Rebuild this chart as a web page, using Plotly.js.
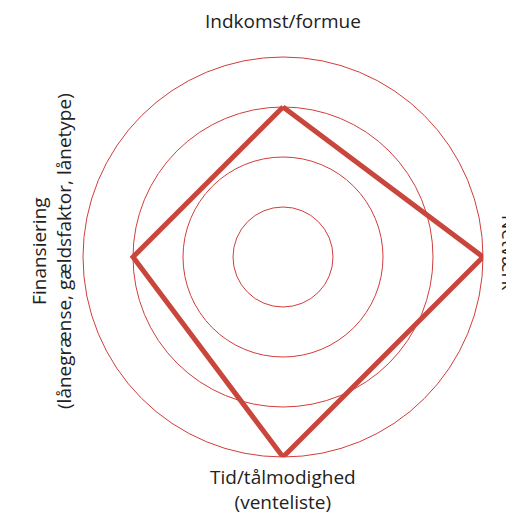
<!DOCTYPE html>
<html>
<head>
<meta charset="utf-8">
<script src="https://cdn.plot.ly/plotly-3.0.1.min.js"></script>
<style>html,body{margin:0;padding:0;background:#fff;overflow:hidden}</style>
</head>
<body>
<div id="chart" style="width:506px;height:514px"></div>
<script>
const categories = ['Indkomst/formue', 'Netværk', 'Tid/tålmodighed', 'Finansiering'];
const labels = ['Indkomst/formue', 'Netværk', 'Tid/tålmodighed<br>(venteliste)', 'Finansiering<br>(lånegrænse, gældsfaktor, lånetype)'];
const values = [3, 4, 4, 3];
const gridLevels = [1, 2, 3, 4];

const red = '#c9463d';
const gridRed = '#d23c3c';
const font = {family: '"Open Sans", sans-serif', size: 19, color: '#222'};

const trace = {
  type: 'scatterpolar',
  r: values.concat([values[0]]),
  theta: categories.concat([categories[0]]),
  mode: 'lines',
  line: {color: red, width: 5},
  hoverinfo: 'skip'
};

const layout = {
  width: 506, height: 514,
  margin: {l: 83, r: 23, t: 57, b: 57},
  paper_bgcolor: '#fff',
  showlegend: false,
  polar: {
    bgcolor: '#fff',
    domain: {x: [0, 1], y: [0, 1]},
    radialaxis: {range: [0, 4], tickvals: gridLevels, showticklabels: false, ticks: '',
                 showline: false, gridcolor: gridRed, gridwidth: 1},
    angularaxis: {type: 'category', categoryarray: categories, direction: 'clockwise', rotation: 90,
                  showgrid: false, showticklabels: false, ticks: '',
                  showline: true, linecolor: gridRed, linewidth: 1}
  },
  annotations: [
    {text: labels[0], xref: 'paper', yref: 'paper', x: 0.5, y: 1.09, showarrow: false, font: font, xanchor: 'center', yanchor: 'middle'},
    {text: labels[1], xref: 'paper', yref: 'paper', x: 1.065, y: 0.5125, showarrow: false, font: font, textangle: 90, xanchor: 'center', yanchor: 'middle'},
    {text: labels[2], xref: 'paper', yref: 'paper', x: 0.5, y: -0.08, showarrow: false, font: font, xanchor: 'center', yanchor: 'middle'},
    {text: labels[3], xref: 'paper', yref: 'paper', x: -0.08, y: 0.515, showarrow: false, font: font, textangle: -90, xanchor: 'center', yanchor: 'middle'}
  ]
};

Plotly.newPlot('chart', [trace], layout, {displayModeBar: false, staticPlot: true});
</script>
</body>
</html>
